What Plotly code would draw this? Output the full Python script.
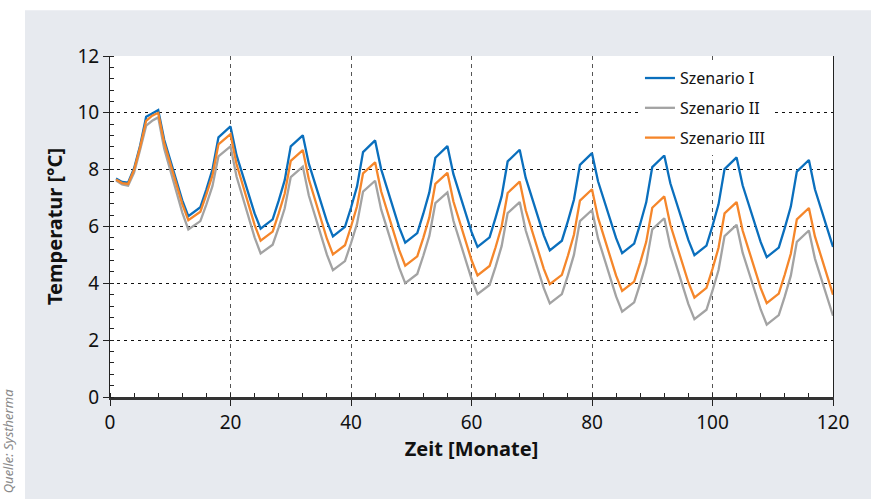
import plotly.graph_objects as go

months = list(range(1, 121))

szenario_1 = [
    7.69, 7.57, 7.54, 8.05, 8.85, 9.86, 9.98, 10.10, 9.05, 8.34,
    7.63, 6.92, 6.36, 6.52, 6.68, 7.31, 8.00, 9.14, 9.33, 9.52,
    8.51, 7.83, 7.14, 6.46, 5.92, 6.09, 6.25, 6.91, 7.63, 8.82,
    9.01, 9.21, 8.21, 7.54, 6.86, 6.18, 5.65, 5.82, 5.99, 6.66,
    7.41, 8.62, 8.83, 9.03, 8.02, 7.34, 6.65, 5.97, 5.43, 5.60,
    5.77, 6.45, 7.20, 8.42, 8.63, 8.83, 7.84, 7.16, 6.49, 5.81,
    5.28, 5.45, 5.62, 6.31, 7.06, 8.29, 8.50, 8.70, 7.71, 7.04,
    6.36, 5.69, 5.16, 5.33, 5.50, 6.19, 6.94, 8.17, 8.38, 8.58,
    7.59, 6.93, 6.26, 5.59, 5.06, 5.23, 5.40, 6.09, 6.85, 8.09,
    8.29, 8.50, 7.52, 6.85, 6.18, 5.52, 4.99, 5.16, 5.33, 6.02,
    6.78, 8.02, 8.22, 8.43, 7.45, 6.78, 6.11, 5.45, 4.92, 5.09,
    5.26, 5.95, 6.70, 7.93, 8.14, 8.34, 7.31, 6.61, 5.91, 5.28,
]

szenario_2 = [
    7.62, 7.48, 7.44, 7.90, 8.70, 9.55, 9.72, 9.84, 8.74, 7.99,
    7.24, 6.49, 5.90, 6.05, 6.19, 6.78, 7.42, 8.47, 8.65, 8.82,
    7.76, 7.05, 6.33, 5.62, 5.05, 5.20, 5.36, 5.97, 6.64, 7.74,
    7.93, 8.11, 7.09, 6.39, 5.70, 5.01, 4.46, 4.62, 4.78, 5.41,
    6.10, 7.23, 7.42, 7.61, 6.60, 5.92, 5.23, 4.55, 4.01, 4.17,
    4.33, 4.97, 5.67, 6.82, 7.01, 7.20, 6.20, 5.52, 4.84, 4.16,
    3.62, 3.78, 3.94, 4.59, 5.31, 6.47, 6.67, 6.86, 5.86, 5.18,
    4.50, 3.83, 3.29, 3.45, 3.62, 4.28, 5.00, 6.19, 6.38, 6.58,
    5.58, 4.90, 4.22, 3.54, 3.00, 3.16, 3.33, 3.99, 4.71, 5.90,
    6.09, 6.29, 5.30, 4.62, 3.95, 3.27, 2.74, 2.91, 3.07, 3.74,
    4.47, 5.66, 5.86, 6.06, 5.08, 4.41, 3.74, 3.08, 2.55, 2.72,
    2.88, 3.54, 4.27, 5.46, 5.66, 5.86, 4.87, 4.20, 3.53, 2.86,
]

szenario_3 = [
    7.65, 7.53, 7.50, 8.00, 8.80, 9.72, 9.90, 10.00, 8.94, 8.22,
    7.51, 6.79, 6.22, 6.37, 6.52, 7.13, 7.80, 8.89, 9.07, 9.25,
    8.20, 7.49, 6.78, 6.06, 5.50, 5.66, 5.82, 6.46, 7.16, 8.31,
    8.50, 8.69, 7.66, 6.97, 6.27, 5.57, 5.02, 5.18, 5.34, 5.99,
    6.71, 7.87, 8.07, 8.26, 7.24, 6.55, 5.86, 5.17, 4.62, 4.78,
    4.95, 5.60, 6.32, 7.50, 7.69, 7.89, 6.88, 6.19, 5.51, 4.82,
    4.28, 4.45, 4.61, 5.27, 6.00, 7.18, 7.38, 7.58, 6.57, 5.88,
    5.20, 4.51, 3.97, 4.14, 4.30, 4.97, 5.71, 6.91, 7.11, 7.31,
    6.31, 5.63, 4.95, 4.27, 3.73, 3.90, 4.06, 4.73, 5.46, 6.66,
    6.86, 7.06, 6.06, 5.39, 4.71, 4.03, 3.50, 3.67, 3.84, 4.51,
    5.25, 6.46, 6.66, 6.86, 5.86, 5.19, 4.51, 3.83, 3.30, 3.47,
    3.64, 4.31, 5.04, 6.25, 6.45, 6.65, 5.65, 4.96, 4.28, 3.60,
]

series_names = ["Szenario I", "Szenario II", "Szenario III"]
series_colors = ["#0a6fbd", "#a3a3a3", "#f5862a"]
x_ticks = [0, 20, 40, 60, 80, 100, 120]
y_ticks = [0, 2, 4, 6, 8, 10, 12]

FONT = "Noto Sans"
PANEL = "#e7eaef"

fig = go.Figure()
for name, vals, col in zip(series_names, [szenario_1, szenario_2, szenario_3], series_colors):
    fig.add_trace(go.Scatter(
        x=months, y=vals, mode="lines", name=name, legendgroup=name,
        line=dict(color=col, width=2.3),
    ))

fig.update_layout(
    width=871, height=499,
    margin=dict(l=110, r=38, t=56, b=102),
    paper_bgcolor=PANEL,
    plot_bgcolor="white",
    font=dict(family=FONT, color="#111"),
    showlegend=True,
    legend=dict(
        x=0.733, y=0.985, xanchor="left", yanchor="top",
        bgcolor="white", borderwidth=0,
        font=dict(family=FONT, size=16, color="#111"),
        tracegroupgap=6,
    ),
    xaxis=dict(
        range=[0, 120], tickvals=x_ticks,
        ticks="outside", ticklen=6, tickcolor="#222",
        showline=True, linecolor="#333", linewidth=2.5,
        showgrid=True, gridcolor="#555", griddash="4px,4px", gridwidth=1,
        zeroline=False,
        tickfont=dict(family=FONT, size=19, color="#111"),
        title=dict(text="<b>Zeit [Monate]</b>", font=dict(family=FONT, size=20, color="#111"), standoff=8),
        minor=dict(ticks="inside", ticklen=4, dtick=4, tick0=0, tickcolor="#222", showgrid=False),
    ),
    yaxis=dict(
        range=[0, 12], tickvals=y_ticks,
        ticks="outside", ticklen=6, tickcolor="#222",
        showline=True, linecolor="#222", linewidth=1, mirror=True,
        showgrid=True, gridcolor="#111", griddash="3px,4px", gridwidth=1,
        zeroline=False,
        tickfont=dict(family=FONT, size=19, color="#111"),
        title=dict(text="<b>Temperatur [°C]</b>", font=dict(family=FONT, size=20, color="#111"), standoff=9),
        minor=dict(ticks="inside", ticklen=4, dtick=0.4, tick0=0, tickcolor="#222", showgrid=False),
    ),
    shapes=[
        dict(type="rect", xref="paper", yref="paper", x0=-0.2, x1=-0.1176, y0=-0.4, y1=1.2,
             fillcolor="white", line=dict(width=0), layer="below"),
        dict(type="rect", xref="paper", yref="paper", x0=-0.2, x1=1.2, y0=1.134, y1=1.3,
             fillcolor="white", line=dict(width=0), layer="below"),
    ],
    annotations=[
        dict(text="<i>Quelle: Systherma</i>", xref="paper", yref="paper",
             x=-0.141, y=-0.288, xanchor="center", yanchor="bottom", textangle=-90,
             showarrow=False, font=dict(family=FONT, size=13, color="#8a8a8a")),
    ],
)

fig.write_html(
    "out.html",
    config={"displayModeBar": False},
    post_script="document.body.style.margin='0';document.body.style.overflow='hidden';",
)
